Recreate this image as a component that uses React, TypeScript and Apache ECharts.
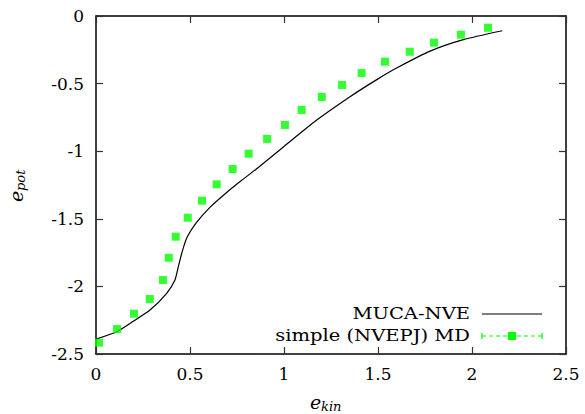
import React, { useEffect, useRef } from "react";
import * as echarts from "echarts";

// MUCA-NVE curve (black line)
const mucaX = [0, 0.11, 0.198, 0.287, 0.376, 0.42, 0.438, 0.456, 0.482, 0.536, 0.606, 0.695, 0.775, 0.85, 1.0, 1.174, 1.351, 1.5, 1.599, 1.777, 1.954, 2.161];
const mucaY = [-2.39, -2.335, -2.258, -2.175, -2.051, -1.953, -1.854, -1.755, -1.644, -1.525, -1.415, -1.305, -1.215, -1.135, -0.965, -0.77, -0.597, -0.465, -0.385, -0.26, -0.175, -0.109];

// simple (NVEPJ) MD points (green squares)
const mdX = [0.016, 0.112, 0.202, 0.286, 0.356, 0.387, 0.424, 0.488, 0.564, 0.642, 0.727, 0.812, 0.91, 1.005, 1.094, 1.201, 1.309, 1.413, 1.537, 1.669, 1.798, 1.941, 2.085];
const mdY = [-2.416, -2.315, -2.202, -2.093, -1.953, -1.788, -1.632, -1.492, -1.366, -1.245, -1.132, -1.018, -0.909, -0.806, -0.695, -0.599, -0.51, -0.422, -0.338, -0.264, -0.197, -0.138, -0.087];

const seriesNames = ["MUCA-NVE", "simple (NVEPJ) MD"];
const xTickStep = 0.5;
const yTickStep = 0.5;

const FONT = "DejaVu Serif";
const GREEN = "#00ff00";

export default function App() {
  const ref = useRef<HTMLDivElement>(null);
  useEffect(() => {
    if (!ref.current) return;
    const chart = echarts.init(ref.current, null, { renderer: "svg" });
    const axisCommon = {
      type: "value" as const,
      splitLine: { show: false },
      axisLine: { show: true, onZero: false, lineStyle: { color: "#000", width: 1.5 } },
      axisTick: { show: true, inside: true, length: 7, lineStyle: { color: "#333", width: 1.2 } },
    };
    const legendX = 470;
    chart.setOption({
      animation: false,
      backgroundColor: "#fff",
      grid: { left: 96, right: 19, top: 16, bottom: 60, containLabel: false },
      xAxis: [
        {
          ...axisCommon,
          position: "bottom",
          min: 0,
          max: 2.5,
          interval: xTickStep,
          axisLabel: { show: true, margin: 11, color: "#000", fontFamily: FONT, fontSize: 17, formatter: (v: number) => String(v) },
        },
        {
          ...axisCommon,
          position: "top",
          min: 0,
          max: 2.5,
          interval: xTickStep,
          axisLabel: { show: false },
        },
      ],
      yAxis: [
        {
          ...axisCommon,
          position: "left",
          min: -2.5,
          max: 0,
          interval: yTickStep,
          axisLabel: { show: true, margin: 12, color: "#000", fontFamily: FONT, fontSize: 17, formatter: (v: number) => String(v) },
        },
        {
          ...axisCommon,
          position: "right",
          min: -2.5,
          max: 0,
          interval: yTickStep,
          axisLabel: { show: false },
        },
      ],
      series: [
        {
          name: seriesNames[0],
          type: "line",
          data: mucaX.map((x, i) => [x, mucaY[i]]),
          showSymbol: false,
          smooth: 0.2,
          lineStyle: { color: "#000", width: 1.2 },
          z: 2,
        },
        {
          name: seriesNames[1],
          type: "scatter",
          data: mdX.map((x, i) => [x, mdY[i]]),
          symbol: "rect",
          symbolSize: 8,
          itemStyle: { color: GREEN },
          z: 3,
        },
      ],
      graphic: [
        // legend
        {
          type: "text",
          x: legendX,
          y: 313,
          scaleX: 1.15,
          style: { text: seriesNames[0], fontFamily: FONT, fontSize: 17, fill: "#000", align: "right", verticalAlign: "middle" },
        },
        {
          type: "line",
          shape: { x1: 482, y1: 314, x2: 542, y2: 314 },
          style: { stroke: "#000", lineWidth: 1.2 },
        },
        {
          type: "text",
          x: legendX,
          y: 335,
          scaleX: 1.15,
          style: { text: seriesNames[1], fontFamily: FONT, fontSize: 17, fill: "#000", align: "right", verticalAlign: "middle" },
        },
        {
          type: "line",
          shape: { x1: 482, y1: 336, x2: 542, y2: 336 },
          style: { stroke: GREEN, lineWidth: 1.2, lineDash: [4, 3] },
        },
        {
          type: "line",
          shape: { x1: 482, y1: 333, x2: 482, y2: 339 },
          style: { stroke: GREEN, lineWidth: 1.2 },
        },
        {
          type: "line",
          shape: { x1: 542, y1: 333, x2: 542, y2: 339 },
          style: { stroke: GREEN, lineWidth: 1.2 },
        },
        {
          type: "rect",
          shape: { x: 508, y: 332, width: 8, height: 8 },
          style: { fill: GREEN },
        },
        // x axis name e_kin
        {
          type: "group",
          x: 310,
          y: 402,
          children: [
            { type: "text", x: 0, y: 0, style: { text: "e", fontFamily: FONT, fontStyle: "italic", fontSize: 19, fill: "#000", align: "left", verticalAlign: "middle" } },
            { type: "text", x: 11, y: 4, style: { text: "kin", fontFamily: FONT, fontStyle: "italic", fontSize: 13, fill: "#000", align: "left", verticalAlign: "middle" } },
          ],
        },
        // y axis name e_pot
        {
          type: "group",
          x: 16,
          y: 202,
          rotation: Math.PI / 2,
          children: [
            { type: "text", x: 0, y: 0, style: { text: "e", fontFamily: FONT, fontStyle: "italic", fontSize: 19, fill: "#000", align: "left", verticalAlign: "middle" } },
            { type: "text", x: 11, y: 4, style: { text: "pot", fontFamily: FONT, fontStyle: "italic", fontSize: 13, fill: "#000", align: "left", verticalAlign: "middle" } },
          ],
        },
      ],
    });
    return () => chart.dispose();
  }, []);
  return <div ref={ref} style={{ width: 585, height: 414, position: "absolute", left: 0, top: 0 }} />;
}
